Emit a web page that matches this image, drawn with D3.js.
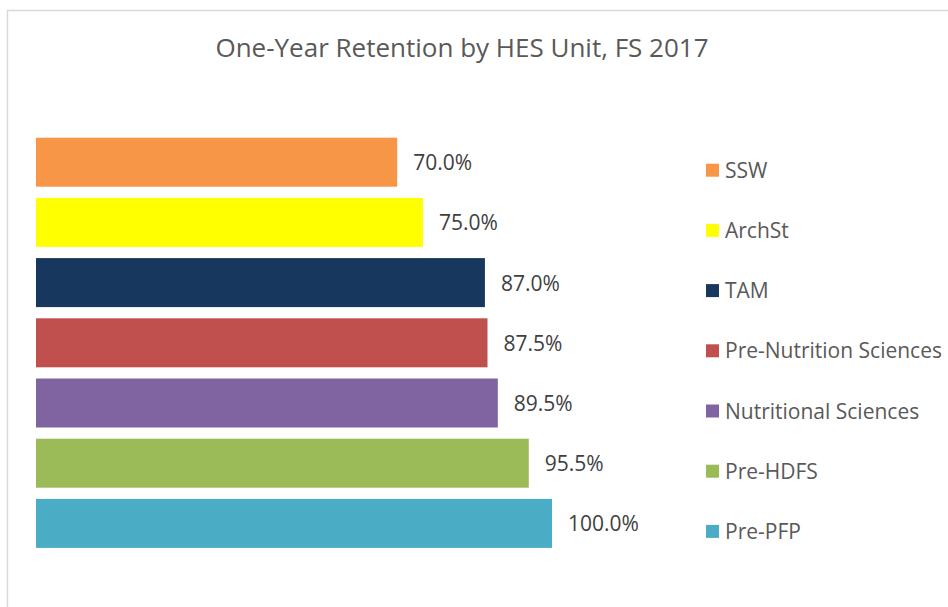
<!DOCTYPE html>
<html>
<head>
  <meta charset="utf-8">
  <style>
    body {
      margin: 0;
      background: #fff;
      font-family: 'Open Sans', sans-serif;
    }
    .title {
      fill: #595959;
      font-size: 26px;
    }
    .label {
      fill: #404040;
      font-size: 21px;
    }
    .legend text {
      fill: #595959;
      font-size: 21px;
    }
  </style>
</head>
<body>
  <div id="chart"></div>
  <script src="https://d3js.org/d3.v7.min.js"></script>
  <script>
    var units = ['SSW', 'ArchSt', 'TAM', 'Pre-Nutrition Sciences', 'Nutritional Sciences', 'Pre-HDFS', 'Pre-PFP'];
    var retention = [70.0, 75.0, 87.0, 87.5, 89.5, 95.5, 100.0];
    var unitColors = ['#f79646', '#ffff00', '#17375e', '#c0504d', '#8064a2', '#9bbb59', '#4bacc6'];

    var width = 948,
      height = 607;

    var svg = d3.select('#chart').append('svg')
      .attr('width', width)
      .attr('height', height);

    // chart area border (runs off the right and bottom edge)
    svg.append('rect')
      .attr('x', 7.5)
      .attr('y', 10.5)
      .attr('width', 1200)
      .attr('height', 1200)
      .attr('fill', 'none')
      .attr('stroke', '#d9d9d9')
      .attr('stroke-width', 1.5);

    svg.append('text')
      .attr('class', 'title')
      .attr('x', 462)
      .attr('y', 57)
      .attr('text-anchor', 'middle')
      .text('One-Year Retention by HES Unit, FS 2017');

    var x = d3.scaleLinear()
      .domain([0, 100])
      .range([36, 552]);

    var y = d3.scaleBand()
      .domain(units)
      .range([137.7, 547.9])
      .paddingInner(0.186)
      .paddingOuter(0);

    var data = units.map(function(u, i) {
      return { unit: u, value: retention[i], color: unitColors[i] };
    });

    var bars = svg.append('g').selectAll('g')
      .data(data)
      .enter().append('g');

    bars.append('rect')
      .attr('x', x(0))
      .attr('y', function(d) { return y(d.unit); })
      .attr('width', function(d) { return x(d.value) - x(0); })
      .attr('height', y.bandwidth())
      .style('fill', function(d) { return d.color; });

    var fmt = d3.format('.1%');
    bars.append('text')
      .attr('class', 'label')
      .attr('x', function(d) { return x(d.value) + 16; })
      .attr('y', function(d) { return y(d.unit) + y.bandwidth() / 2; })
      .attr('dy', '0.38em')
      .text(function(d) { return fmt(d.value / 100); });

    // legend, same spacing as the bars but shifted down a little
    var legend = svg.append('g')
      .attr('class', 'legend')
      .selectAll('g')
      .data(data)
      .enter().append('g')
      .attr('transform', function(d) {
        return 'translate(706,' + (y(d.unit) + y.bandwidth() / 2 + 8) + ')';
      });

    legend.append('rect')
      .attr('x', 0)
      .attr('y', -6.5)
      .attr('width', 13)
      .attr('height', 13)
      .style('fill', function(d) { return d.color; });

    legend.append('text')
      .attr('x', 19)
      .attr('y', 0)
      .attr('dy', '0.36em')
      .text(function(d) { return d.unit; });
  </script>
</body>
</html>
